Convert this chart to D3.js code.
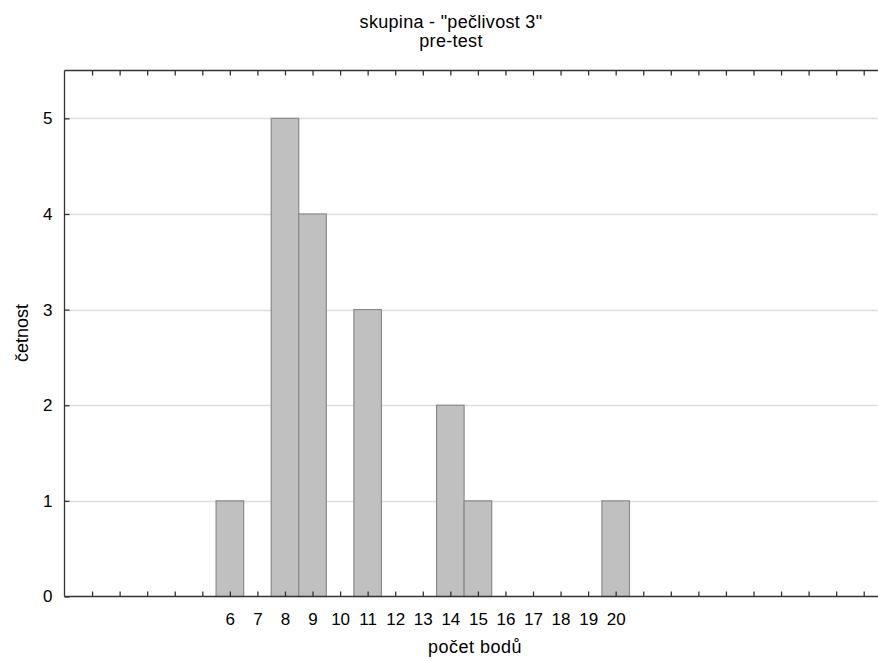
<!DOCTYPE html>
<html>
<head>
<meta charset="utf-8">
<script src="https://cdn.jsdelivr.net/npm/d3@7"></script>
<style>
  html, body { margin: 0; padding: 0; background: #fff; }
  svg text { font-family: "Liberation Sans", Arial, sans-serif; fill: #000; }
</style>
</head>
<body>
<svg id="chart" width="878" height="662"></svg>
<script>
// Histogram: score counts for one group (pre-test)
const scores = [6, 8, 9, 11, 14, 15, 20];
const counts = [1, 5, 4, 3, 2, 1, 1];
const xTickValues = d3.range(1, 30);
const xLabelValues = d3.range(6, 21);
const yTickValues = [0, 1, 2, 3, 4, 5];
const titleLines = ['skupina - "pečlivost 3"', 'pre-test'];
const xTitle = "počet bodů";
const yTitle = "četnost";

const svg = d3.select("#chart");
const plotLeft = 64.5, plotRight = 877.5, plotTop = 70.5, plotBottom = 596.5;
const tickFont = 17, titleFont = 18;

const x = d3.scaleLinear().domain([0, 29.5]).range([plotLeft, plotRight]);
const y = d3.scaleLinear().domain([0, 5.5]).range([plotBottom, plotTop]);

// horizontal gridlines
svg.append("g")
  .selectAll("line")
  .data(yTickValues.filter(d => d > 0))
  .join("line")
  .attr("x1", plotLeft).attr("x2", plotRight)
  .attr("y1", d => Math.round(y(d)) + 0.5).attr("y2", d => Math.round(y(d)) + 0.5)
  .attr("stroke", "#dedede").attr("stroke-width", 1.5);

// bars
const data = scores.map((s, i) => ({ s, c: counts[i] }));
svg.append("g")
  .selectAll("rect")
  .data(data)
  .join("rect")
  .attr("x", d => x(d.s - 0.5))
  .attr("width", d => x(d.s + 0.5) - x(d.s - 0.5))
  .attr("y", d => y(d.c))
  .attr("height", d => y(0) - y(d.c))
  .attr("fill", "#c0c0c0")
  .attr("stroke", "#8a8a8a")
  .attr("stroke-width", 1.2);

// frame lines: left, bottom, top
const axisColor = "#333";
svg.append("line").attr("x1", plotLeft).attr("x2", plotLeft).attr("y1", plotTop).attr("y2", plotBottom)
  .attr("stroke", axisColor).attr("stroke-width", 1.3);
svg.append("line").attr("x1", plotLeft).attr("x2", 878).attr("y1", plotBottom).attr("y2", plotBottom)
  .attr("stroke", axisColor).attr("stroke-width", 1.3);
svg.append("line").attr("x1", plotLeft).attr("x2", 878).attr("y1", plotTop).attr("y2", plotTop)
  .attr("stroke", axisColor).attr("stroke-width", 1.3);

// bottom axis: inward ticks, labels only for a sub-range
const bottomAxis = d3.axisBottom(x)
  .tickValues(xTickValues)
  .tickSizeInner(-5).tickSizeOuter(0)
  .tickFormat(d => xLabelValues.includes(d) ? d : "");
const gb = svg.append("g").attr("transform", `translate(0,${plotBottom})`).call(bottomAxis);
gb.select(".domain").remove();
gb.selectAll(".tick line").attr("stroke", axisColor).attr("stroke-width", 1.3);
gb.selectAll(".tick text").attr("y", 16).attr("font-size", tickFont)
  .attr("font-family", "Liberation Sans, Arial, sans-serif");

// top axis: inward ticks, no labels
const topAxis = d3.axisTop(x).tickValues(xTickValues).tickSizeInner(-5).tickSizeOuter(0).tickFormat("");
const gt = svg.append("g").attr("transform", `translate(0,${plotTop})`).call(topAxis);
gt.select(".domain").remove();
gt.selectAll(".tick line").attr("stroke", axisColor).attr("stroke-width", 1.3);

// left axis: inward ticks
const leftAxis = d3.axisLeft(y).tickValues(yTickValues).tickSizeInner(-5).tickSizeOuter(0).tickFormat(d3.format("d"));
const gl = svg.append("g").attr("transform", `translate(${plotLeft},0)`).call(leftAxis);
gl.select(".domain").remove();
gl.selectAll(".tick line").attr("stroke", axisColor).attr("stroke-width", 1.3);
gl.selectAll(".tick text").attr("x", -12).attr("font-size", tickFont)
  .attr("font-family", "Liberation Sans, Arial, sans-serif");

// titles
const titleX = 451;
svg.append("text").attr("x", titleX).attr("y", 28).attr("text-anchor", "middle")
  .attr("font-size", titleFont).attr("letter-spacing", 0.3).text(titleLines[0]);
svg.append("text").attr("x", titleX).attr("y", 47).attr("text-anchor", "middle")
  .attr("font-size", titleFont).attr("letter-spacing", 0.3).text(titleLines[1]);
svg.append("text").attr("x", 475).attr("y", 653).attr("text-anchor", "middle")
  .attr("font-size", titleFont).attr("letter-spacing", 0.5).text(xTitle);
svg.append("text").attr("transform", `translate(28,333) rotate(-90)`)
  .attr("text-anchor", "middle").attr("font-size", titleFont).text(yTitle);
</script>
</body>
</html>
